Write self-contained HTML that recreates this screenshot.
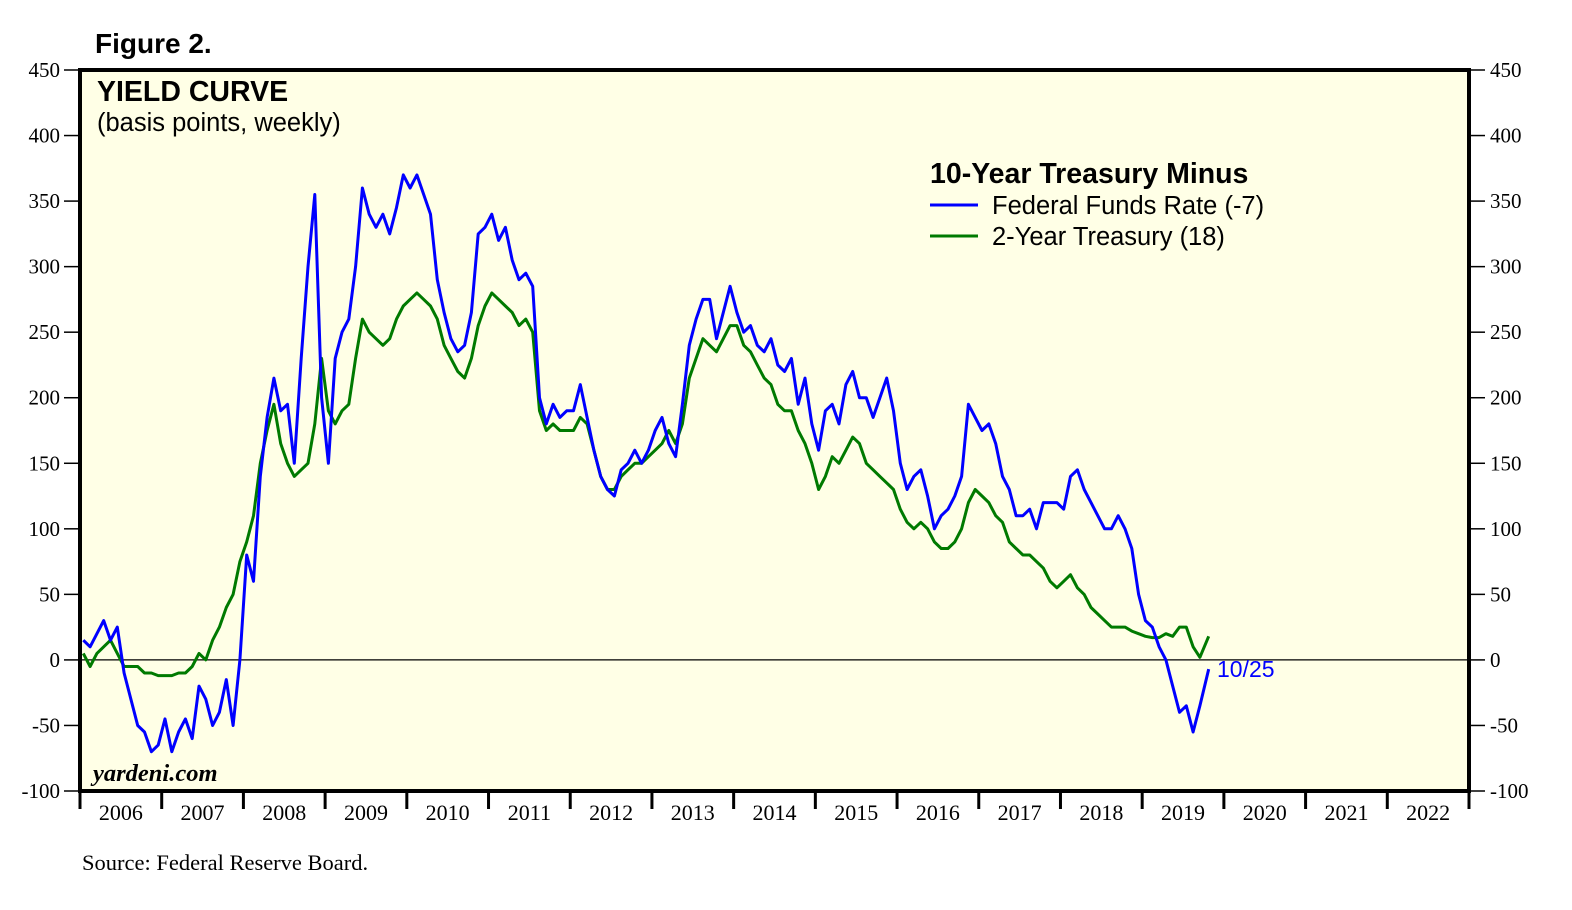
<!DOCTYPE html>
<html><head><meta charset="utf-8"><style>
body{margin:0;background:#fff;width:1572px;height:910px;overflow:hidden}
svg{display:block}
</style></head><body>
<svg id="chart" width="1572" height="910" xmlns="http://www.w3.org/2000/svg">
<text x="95" y="53" font-family="Liberation Sans, sans-serif" font-weight="bold" font-size="28">Figure 2.</text>
<rect x="80" y="70" width="1389" height="721" fill="#ffffe6" stroke="#000" stroke-width="4"/>
<g id="axes"></g>
<g id="series"></g>
<text x="97" y="101" font-family="Liberation Sans, sans-serif" font-weight="bold" font-size="28.5">YIELD CURVE</text>
<text x="97" y="131" font-family="Liberation Sans, sans-serif" font-size="25.5">(basis points, weekly)</text>
<text x="930" y="183" font-family="Liberation Sans, sans-serif" font-weight="bold" font-size="28.5">10-Year Treasury Minus</text>
<line x1="930" y1="205" x2="978" y2="205" stroke="#0000ff" stroke-width="3"/>
<text x="992" y="214" font-family="Liberation Sans, sans-serif" font-size="25.5">Federal Funds Rate (-7)</text>
<line x1="930" y1="236" x2="978" y2="236" stroke="#007a00" stroke-width="3"/>
<text x="992" y="245" font-family="Liberation Sans, sans-serif" font-size="25.5">2-Year Treasury (18)</text>
<text x="1217" y="677" font-family="Liberation Sans, sans-serif" font-size="23" fill="#0000ff">10/25</text>
<text x="93" y="781" font-family="Liberation Serif, serif" font-weight="bold" font-style="italic" font-size="24.5">yardeni.com</text>
<text x="82" y="870" font-family="Liberation Serif, serif" font-size="22.5">Source: Federal Reserve Board.</text>
</svg>
<script>
const yTicks=[450,400,350,300,250,200,150,100,50,0,-50,-100];
const years=[2006,2007,2008,2009,2010,2011,2012,2013,2014,2015,2016,2017,2018,2019,2020,2021,2022];
// monthly values Jan 2006 .. Oct 2019
const fedFundsSpread=[15,10,20,30,15,25,-10,-30,-50,-55,-70,-65,
-45,-70,-55,-45,-60,-20,-30,-50,-40,-15,-50,0,
80,60,140,185,215,190,195,150,230,300,355,200,
150,230,250,260,300,360,340,330,340,325,345,370,
360,370,355,340,290,265,245,235,240,265,325,330,
340,320,330,305,290,295,285,200,180,195,185,190,
190,210,185,160,140,130,125,145,150,160,150,160,
175,185,165,155,195,240,260,275,275,245,265,285,
265,250,255,240,235,245,225,220,230,195,215,180,
160,190,195,180,210,220,200,200,185,200,215,190,
150,130,140,145,125,100,110,115,125,140,195,185,
175,180,165,140,130,110,110,115,100,120,120,120,
115,140,145,130,120,110,100,100,110,100,85,50,
30,25,10,0,-20,-40,-35,-55,-35,-7];
const twoYearSpread=[5,-5,5,10,15,5,-5,-5,-5,-10,-10,-12,
-12,-12,-10,-10,-5,5,0,15,25,40,50,75,
90,110,150,175,195,165,150,140,145,150,180,230,
190,180,190,195,230,260,250,245,240,245,260,270,
275,280,275,270,260,240,230,220,215,230,255,270,
280,275,270,265,255,260,250,190,175,180,175,175,
175,185,180,160,140,130,130,140,145,150,150,155,
160,165,175,165,180,215,230,245,240,235,245,255,
255,240,235,225,215,210,195,190,190,175,165,150,
130,140,155,150,160,170,165,150,145,140,135,130,
115,105,100,105,100,90,85,85,90,100,120,130,
125,120,110,105,90,85,80,80,75,70,60,55,
60,65,55,50,40,35,30,25,25,25,22,20,
18,17,17,20,18,25,25,10,2,18];
const NS="http://www.w3.org/2000/svg";
const L=80,R=1469,T=70,B=791,yMin=-100,yMax=450,x0=2006,x1=2023;
const yS=v=>B-(v-yMin)/(yMax-yMin)*(B-T);
const xS=t=>L+(t-x0)/(x1-x0)*(R-L);
const axes=document.getElementById('axes'),ser=document.getElementById('series');
function mk(tag,attrs,parent){const e=document.createElementNS(NS,tag);for(const k in attrs)e.setAttribute(k,attrs[k]);parent.appendChild(e);return e;}
yTicks.forEach(v=>{const y=yS(v);
 let t=mk('line',{x1:64,x2:L,y1:y,y2:y,stroke:'#000','stroke-width':1.5},axes);
 
 
 t=mk('line',{x1:R,x2:1485,y1:y,y2:y,stroke:'#000','stroke-width':1.5},axes);
 
 
 let l=mk('text',{x:60,y:y+7,'text-anchor':'end','font-family':'Liberation Serif, serif','font-size':21},axes);l.textContent=v;
 
 
 l=mk('text',{x:1490,y:y+7,'font-family':'Liberation Serif, serif','font-size':21},axes);l.textContent=v;
 
 
});
const zl=mk('line',{x1:L,x2:R,y1:yS(0),y2:yS(0),stroke:'#000','stroke-width':1.2},axes);


years.forEach(yr=>{
 const x=xS(yr);
 const t=mk('line',{x1:x,x2:x,y1:B,y2:809,stroke:'#000','stroke-width':3},axes);
 
 
 const l=mk('text',{x:xS(yr+0.5),y:820,'text-anchor':'middle','font-family':'Liberation Serif, serif','font-size':22},axes);l.textContent=yr;
 
 
});
const t3=mk('line',{x1:R,x2:R,y1:B,y2:809,stroke:'#000','stroke-width':3},axes);


function path(arr,color,name){
 const n=arr.length;
 const pts=arr.map((v,i)=>{const t=(i===n-1)?x0+13+(9+24/31)/12:x0+i/12+0.04;return xS(t).toFixed(1)+','+yS(v).toFixed(1);});
 const p=mk('polyline',{points:pts.join(' '),fill:'none',stroke:color,'stroke-width':3,'stroke-linejoin':'round'},ser);
 
 
}
path(twoYearSpread,'#007a00','two-year-spread-line');
path(fedFundsSpread,'#0000ff','fed-funds-spread-line');
</script>
</body></html>
